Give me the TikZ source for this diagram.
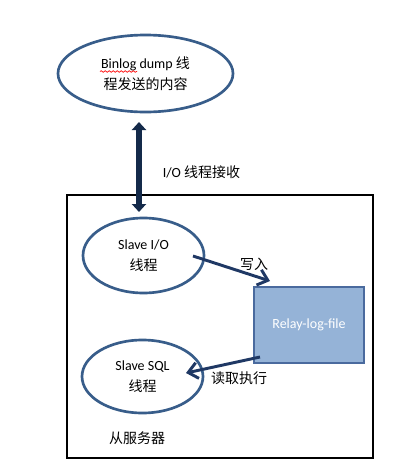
\documentclass[tikz,border=0pt]{standalone}
\usepackage{fontspec}
\setmainfont{Carlito}
\newfontfamily\cjk{Noto Sans CJK SC}
\usetikzlibrary{shapes.geometric,arrows.meta,decorations.pathmorphing}
\definecolor{ellc}{HTML}{385D8A}
\definecolor{arrc}{HTML}{1F3864}
\definecolor{dblc}{HTML}{142A4A}
\definecolor{relayfill}{HTML}{95B3D7}
\definecolor{relaydraw}{HTML}{4A6A9E}
\tikzset{
  thread/.style={ellipse, draw=ellc, line width=2pt, inner sep=0pt, align=center, font=\fontsize{10.5}{15.5}\selectfont},
  lbl/.style={inner sep=0pt, font=\fontsize{10.5}{13}\selectfont},
  flow/.style={draw=arrc, line width=2.2pt, -{Straight Barb[length=7pt,width=12pt]}},
  recvarrow/.style={draw=dblc, line width=4pt, {Triangle[length=6pt,width=10.5pt]}-{Triangle[length=6pt,width=10.5pt]}}
}
\begin{document}
\begin{tikzpicture}[x=0.75pt,y=-0.75pt]
\useasboundingbox (0,0) rectangle (414,475);
\fill[white] (0,0) rectangle (414,475);
% slave server box
\node[draw=black, line width=1.6pt, minimum width=229.5pt, minimum height=197.25pt, inner sep=0pt] (server) at (220,326.5) {};
\node[lbl] (serverlbl) at (137,438) {\cjk 从服务器};
% top ellipse
\node[thread, minimum width=131.25pt, minimum height=57.75pt] (dump) at (145.5,73.5) {Binlog dump {\cjk 线}\\{\cjk 程发送的内容}};
\draw[red, line width=0.5pt, decorate, decoration={snake, segment length=3pt, amplitude=0.6pt}] (100,71.5) -- (137,71.5);
% slave io
\node[thread, minimum width=90.75pt, minimum height=56.25pt] (io) at (143.5,255.5) {Slave I/O\\{\cjk 线程}};
% slave sql
\node[thread, minimum width=90.75pt, minimum height=54.75pt] (sql) at (142.5,376.5) {Slave SQL\\{\cjk 线程}};
% relay
\node[draw=relaydraw, fill=relayfill, line width=0.8pt, minimum width=82.5pt, minimum height=57pt, inner sep=0pt, text=white, font=\fontsize{10.5}{12}\selectfont] (relay) at (309,325) {Relay-log-file};
% arrows
\coordinate (dumpbot) at (139,122);
\coordinate (iotop) at (139,212);
\draw[recvarrow] (dumpbot) -- (iotop);
\node[lbl] (recvlbl) at (201.5,172) {I/O {\cjk 线程接收}};
\coordinate (iostart) at (193,256);
\coordinate (relayin) at (270,281);
\draw[flow] (iostart) -- (relayin);
\node[lbl] (writelbl) at (254,264) {\cjk 写入};
\coordinate (relayout) at (260,357);
\coordinate (sqlin) at (186,373);
\draw[flow] (relayout) -- (sqlin);
\node[lbl] (readlbl) at (239,378) {\cjk 读取执行};
\end{tikzpicture}
\end{document}
